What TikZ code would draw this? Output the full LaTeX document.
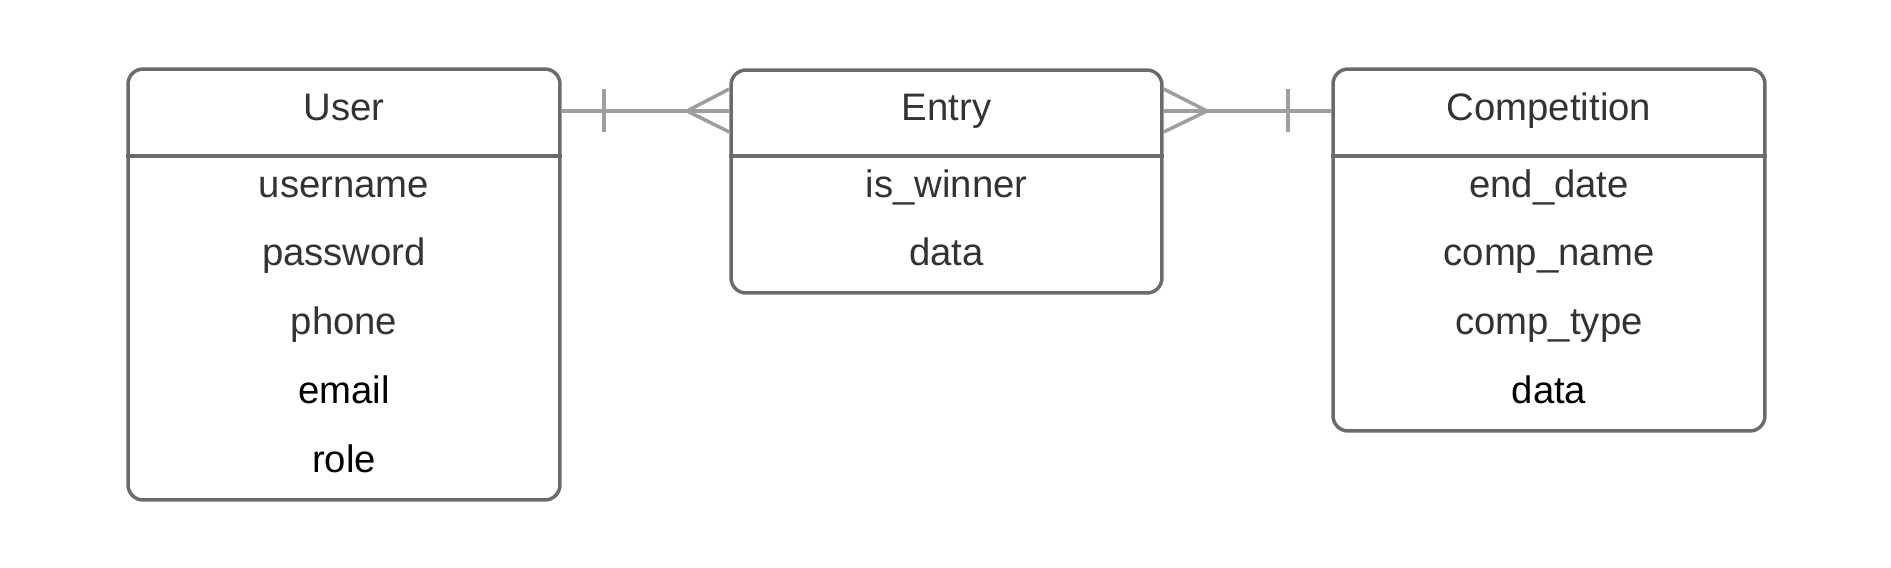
\documentclass[tikz,border=0pt]{standalone}
\usepackage{fontspec}
\setmainfont{Liberation Sans}
\usetikzlibrary{calc}

\definecolor{boxgray}{HTML}{6B6B6B}
\definecolor{linkgray}{HTML}{9E9E9E}
\definecolor{txtgray}{HTML}{333333}

\begin{document}
\begin{tikzpicture}[x=0.02cm, y=-0.02cm,
    entbox/.style={draw=boxgray, line width=2pt, rounded corners=0.3cm, inner sep=0pt},
    sepline/.style={draw=boxgray, line width=2pt},
    link/.style={draw=linkgray, line width=2pt},
    every node/.style={font=\fontsize{21.8}{25}\selectfont, text=txtgray, anchor=base}]
  \useasboundingbox (0,0) rectangle (1891,568);

  % entity boxes
  \node[entbox, anchor=center, minimum width=8.64cm, minimum height=8.62cm] (user) at (344,284.5) {};
  \node[entbox, anchor=center, minimum width=8.62cm, minimum height=4.46cm] (entry) at (946.5,181.5) {};
  \node[entbox, anchor=center, minimum width=8.64cm, minimum height=7.24cm] (comp) at (1549,250) {};

  \draw[sepline] (user.west |- 0,156) -- (user.east |- 0,156);
  \draw[sepline] (entry.west |- 0,156) -- (entry.east |- 0,156);
  \draw[sepline] (comp.west |- 0,156) -- (comp.east |- 0,156);

  % titles
  \node (userT) at (344,120) {User};
  \node (entryT) at (946.5,120) {Entry};
  \node (compT) at (1549,120) {Competition};

  % attributes
  \node (uname) at (344,197) {username};
  \node (upass) at (344,265.5) {password};
  \node (uphone) at (344,334.5) {phone};
  \node[text=black] (umail) at (344,403) {email};
  \node[text=black] (urole) at (344,472) {role};

  \node (ewin) at (946.5,197) {is\_winner};
  \node (edata) at (946.5,265.5) {data};

  \node (cend) at (1549,197) {end\_date};
  \node (cname) at (1549,265.5) {comp\_name};
  \node (ctype) at (1549,334.5) {comp\_type};
  \node[text=black] (cdata) at (1549,403) {data};

  % relations
  \draw[link] (user.east |- 0,111) -- (entry.west |- 0,111);
  \draw[link] (604,89) -- (604,132);
  \draw[link] (entry.west |- 0,89) -- (687,111) -- (entry.west |- 0,132);

  \draw[link] (entry.east |- 0,111) -- (comp.west |- 0,111);
  \draw[link] (entry.east |- 0,89) -- (1207,111) -- (entry.east |- 0,132);
  \draw[link] (1288,89) -- (1288,132);
\end{tikzpicture}
\end{document}
